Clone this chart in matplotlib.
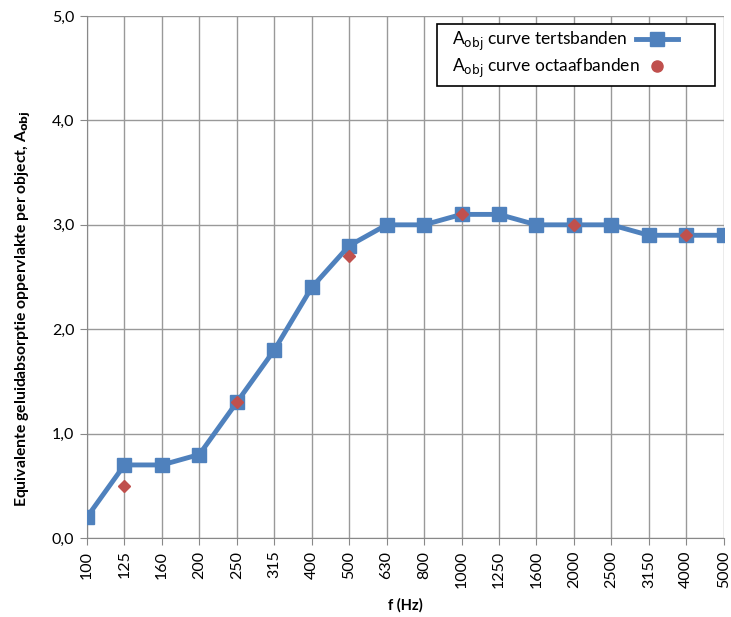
import numpy as np
import matplotlib.pyplot as plt
from matplotlib.lines import Line2D
from matplotlib.offsetbox import DrawingArea

plt.rcParams['font.family'] = ['Lato', 'DejaVu Sans']

# data
freqs = ['100', '125', '160', '200', '250', '315', '400', '500', '630', '800',
         '1000', '1250', '1600', '2000', '2500', '3150', '4000', '5000']
terts = [0.2, 0.7, 0.7, 0.8, 1.3, 1.8, 2.4, 2.8, 3.0, 3.0,
         3.1, 3.1, 3.0, 3.0, 3.0, 2.9, 2.9, 2.9]
oct_freqs = ['125', '250', '500', '1000', '2000', '4000']
octaaf = [0.5, 1.3, 2.7, 3.1, 3.0, 2.9]

blauw = '#4F81BD'
rood = '#C0504D'

fig = plt.figure(figsize=(7.31, 6.17), dpi=100)
ax = fig.add_axes([0.119, 0.128, 0.871, 0.846])

x = np.arange(len(freqs))
ax.plot(x, terts, color=blauw, lw=3.5, marker='s', ms=10, zorder=3)
xo = [freqs.index(f) for f in oct_freqs]
ax.plot(xo, octaaf, ls='none', marker='D', ms=6.5, color=rood, zorder=4)

ax.set_xlim(0, len(freqs) - 1)
ax.set_ylim(0, 5)
ax.set_xticks(x)
ax.set_xticklabels(freqs, rotation=90, fontsize=11.5)
yt = np.arange(0, 5.01, 1.0)
ax.set_yticks(yt)
ax.set_yticklabels([('%.1f' % v).replace('.', ',') for v in yt], fontsize=11.5)
ax.grid(True, color='#999999', lw=1)
ax.set_axisbelow(True)
for s in ['top', 'right']:
    ax.spines[s].set_visible(False)
ax.spines['left'].set_color('#888888')
ax.spines['bottom'].set_color('#888888')
ax.tick_params(direction='out', length=5, color='#888888', pad=4)

ax.set_xlabel('f (Hz)', fontsize=10.5, fontweight='bold', labelpad=7)
ax.set_ylabel('Equivalente geluidabsorptie oppervlakte per object, A$_{\\mathbf{obj}}$',
              fontsize=11.3, fontweight='bold')
ax.yaxis.set_label_coords(-0.085, 0.44)

h1 = Line2D([], [], color=blauw, lw=3.5, marker='s', ms=10)
h2 = Line2D([], [], ls='none', marker='o', ms=8, color=rood)
leg = ax.legend([h1, h2], ['A$_{\\mathrm{obj}}$ curve tertsbanden', 'A$_{\\mathrm{obj}}$ curve octaafbanden'],
                loc='upper right', bbox_to_anchor=(0.986, 0.985), borderaxespad=0,
                markerfirst=False, columnspacing=0.5,
                fontsize=12.5, fancybox=False, framealpha=1, edgecolor='black',
                handlelength=2.4, borderpad=0.35, labelspacing=0.2, handletextpad=0.6)
leg.get_frame().set_linewidth(1.2)
# text left, handle right, same row width (Excel style)
kids = leg._legend_handle_box.get_children()
for col in kids:
    for row in col.get_children():
        row.width = 226
        row.mode = 'expand'
kids.insert(0, DrawingArea(0, 1))
kids.append(DrawingArea(16, 1))

fig.savefig('out.png', dpi=100)
